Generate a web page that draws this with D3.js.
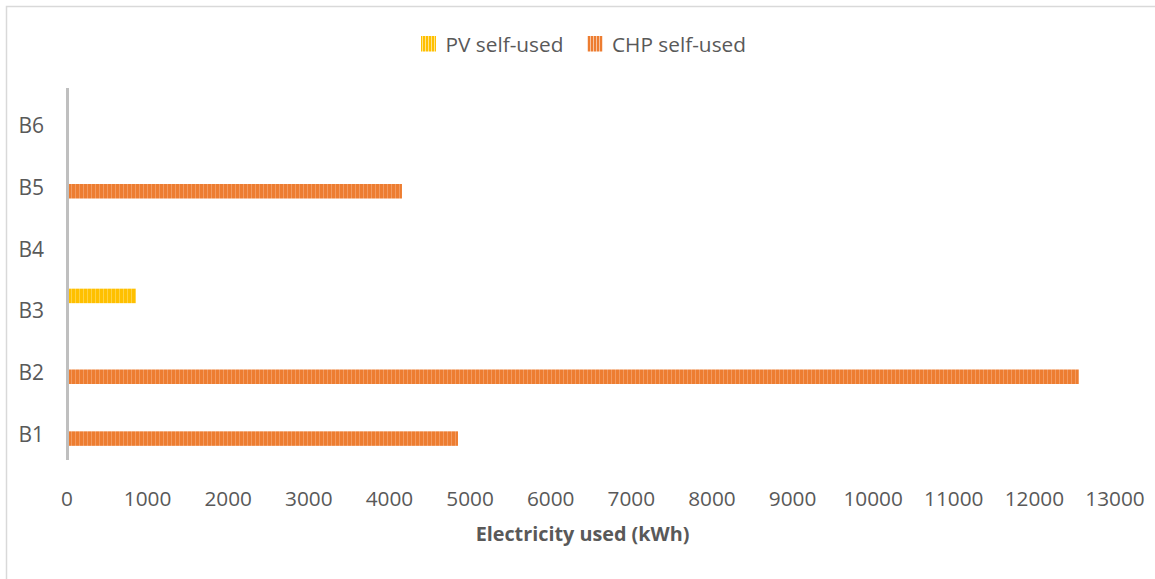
<!DOCTYPE html>
<html>
<head>
<meta charset="utf-8">
<script src="https://cdn.jsdelivr.net/npm/d3@7"></script>
<style>
  html, body { margin: 0; padding: 0; background: #fff; }
  svg { display: block; font-family: "Open Sans", sans-serif; }
</style>
</head>
<body>
<svg id="chart" width="1155" height="579"></svg>
<script>
// Buildings, drawn top to bottom
const categories = ["B6", "B5", "B4", "B3", "B2", "B1"];
const seriesNames = ["PV self-used", "CHP self-used"];
// Electricity used per building (kWh); null = no bar
const pvSelfUsed  = { B1: null, B2: null,  B3: 855,  B4: null, B5: null, B6: null };
const chpSelfUsed = { B1: 4850, B2: 12550, B3: null, B4: null, B5: 4155, B6: null };
const xTicks = [0, 1000, 2000, 3000, 4000, 5000, 6000, 7000, 8000, 9000, 10000, 11000, 12000, 13000];
const xTitle = "Electricity used (kWh)";

const colors = { "PV self-used": "#FFC000", "CHP self-used": "#ED7D31" };
const stripe = { "PV self-used": "#FFE38A", "CHP self-used": "#F7B790" };
const textColor = "#595959";

const svg = d3.select("#chart");

// outer frame
svg.append("rect")
  .attr("x", 6.5).attr("y", 6.5)
  .attr("width", 1160).attr("height", 600)
  .attr("fill", "none").attr("stroke", "#d9d9d9").attr("stroke-width", 1.5);

// vertical stripe patterns
const defs = svg.append("defs");
seriesNames.forEach((s, i) => {
  const p = defs.append("pattern")
    .attr("id", "pat" + i)
    .attr("patternUnits", "userSpaceOnUse")
    .attr("width", 4).attr("height", 4);
  p.append("rect").attr("width", 4).attr("height", 4).attr("fill", colors[s]);
  p.append("rect").attr("x", 3).attr("width", 1).attr("height", 4)
    .attr("fill", stripe[s]).attr("opacity", 0.5);
  const q = defs.append("pattern")
    .attr("id", "leg" + i)
    .attr("patternUnits", "userSpaceOnUse")
    .attr("width", 3).attr("height", 3);
  q.append("rect").attr("width", 3).attr("height", 3).attr("fill", colors[s]);
  q.append("rect").attr("x", 2).attr("width", 1).attr("height", 3)
    .attr("fill", "#fff").attr("opacity", 0.55);
});

const x = d3.scaleLinear().domain([0, 13000]).range([67, 1115]);
const y = d3.scaleBand().domain(categories).range([89, 460]);
const inner = d3.scaleBand().domain(seriesNames)
  .range([-16.75, 16.75]).paddingInner(0.237);

const rows = [];
categories.forEach(c => {
  [[seriesNames[0], pvSelfUsed[c]], [seriesNames[1], chpSelfUsed[c]]].forEach(([s, v]) => {
    if (v != null) rows.push({ cat: c, series: s, value: v });
  });
});

// bars
svg.append("g").selectAll("rect")
  .data(rows)
  .join("rect")
  .attr("x", x(0) + 2)
  .attr("y", d => y(d.cat) + y.bandwidth() / 2 + inner(d.series))
  .attr("width", d => x(d.value) - x(0) - 2)
  .attr("height", inner.bandwidth())
  .attr("fill", d => "url(#pat" + seriesNames.indexOf(d.series) + ")");

// category axis line
svg.append("line")
  .attr("x1", x(0) + 0.5).attr("x2", x(0) + 0.5)
  .attr("y1", 88).attr("y2", 460)
  .attr("stroke", "#bfbfbf").attr("stroke-width", 3);

// category labels
svg.append("g").selectAll("text")
  .data(categories)
  .join("text")
  .attr("x", 44)
  .attr("y", d => y(d) + y.bandwidth() / 2 + 13)
  .attr("text-anchor", "end")
  .attr("font-size", 21)
  .attr("fill", textColor)
  .text(d => d);

// value axis tick labels
svg.append("g").selectAll("text")
  .data(xTicks)
  .join("text")
  .attr("x", d => x(d))
  .attr("y", 505.5)
  .attr("text-anchor", "middle")
  .attr("font-size", 20.8)
  .attr("fill", textColor)
  .text(d => d);

// axis title
svg.append("text")
  .attr("x", 582.5).attr("y", 540.5)
  .attr("text-anchor", "middle")
  .attr("font-size", 19.8)
  .attr("font-weight", "bold")
  .attr("fill", textColor)
  .text(xTitle);

// legend
const legendX = [421, 587.5];
const leg = svg.append("g").selectAll("g")
  .data(seriesNames)
  .join("g");
leg.append("rect")
  .attr("x", (d, i) => legendX[i]).attr("y", 36)
  .attr("width", 15).attr("height", 15.5)
  .attr("fill", (d, i) => "url(#leg" + i + ")");
leg.append("text")
  .attr("x", (d, i) => legendX[i] + 24.5).attr("y", 51.5)
  .attr("font-size", 20.8)
  .attr("fill", textColor)
  .text(d => d);
</script>
</body>
</html>
